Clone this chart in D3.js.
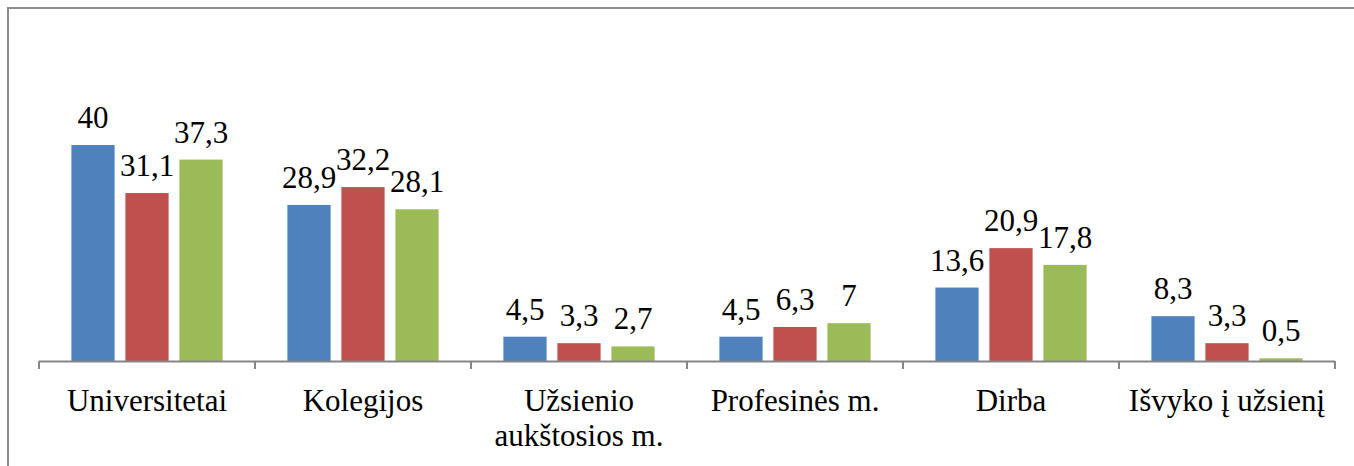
<!DOCTYPE html>
<html>
<head>
<meta charset="utf-8">
<script src="https://cdn.jsdelivr.net/npm/d3@7"></script>
<style>
  body { margin: 0; background: #fff; }
  svg { display: block; }
  svg text { font-family: "Liberation Serif", Tinos, "Times New Roman", Times, serif !important; }
</style>
</head>
<body>
<script>
var w = 1354;
var h = 466;

var categories = ["Universitetai", "Kolegijos", "Užsienio\naukštosios m.", "Profesinės m.", "Dirba", "Išvyko į užsienį"];
var series = ["s1", "s2", "s3"];
var values1 = [40, 28.9, 4.5, 4.5, 13.6, 8.3];
var values2 = [31.1, 32.2, 3.3, 6.3, 20.9, 3.3];
var values3 = [37.3, 28.1, 2.7, 7, 17.8, 0.5];
var colors = ["#4f81bd", "#c0504d", "#9bbb59"];

var allValues = [values1, values2, values3];

var x0 = d3.scaleBand()
    .domain(categories)
    .range([39, 1335]);

var x1 = d3.scaleBand()
    .domain(series)
    .range([0, x0.bandwidth()])
    .paddingInner(0.2)
    .paddingOuter(0.6);

var yScale = d3.scaleLinear()
    .domain([0, 40])
    .range([361, 145]);

var svg = d3.select("body")
    .append("svg")
    .attr("width", w)
    .attr("height", h);

// chart frame
svg.append("rect")
    .attr("x", 8)
    .attr("y", 8)
    .attr("width", w + 20)
    .attr("height", h + 20)
    .attr("fill", "none")
    .attr("stroke", "#8e8e8e")
    .attr("stroke-width", 2);

var groups = svg.selectAll("g.cat")
    .data(categories)
    .enter()
    .append("g")
    .attr("class", "cat")
    .attr("transform", function(d) { return "translate(" + x0(d) + ",0)"; });

// bars
groups.selectAll("rect")
    .data(function(d, i) {
        return series.map(function(s, j) { return { s: s, v: allValues[j][i], c: colors[j] }; });
    })
    .enter()
    .append("rect")
    .attr("x", function(d) { return x1(d.s); })
    .attr("y", function(d) { return yScale(d.v); })
    .attr("width", x1.bandwidth())
    .attr("height", function(d) { return yScale(0) - yScale(d.v); })
    .attr("fill", function(d) { return d.c; });

// value labels
groups.selectAll("text.val")
    .data(function(d, i) {
        return series.map(function(s, j) { return { s: s, v: allValues[j][i] }; });
    })
    .enter()
    .append("text")
    .attr("class", "val")
    .attr("x", function(d) { return x1(d.s) + x1.bandwidth() / 2; })
    .attr("y", function(d) { return yScale(d.v) - 17; })
    .attr("text-anchor", "middle")
    .attr("font-family", function() { return "Liberation Serif"; })
    .attr("font-size", 31)
    .attr("fill", "#000")
    .text(function(d) { return String(d.v).replace(".", ","); });

// x axis with category labels
var xAxis = d3.axisBottom(x0)
    .tickSize(0)
    .tickPadding(0)
    .tickFormat("");

var axisG = svg.append("g")
    .attr("transform", "translate(0," + yScale(0) + ")")
    .call(xAxis)
    .attr("font-family", "Liberation Serif")
    .attr("font-size", 31);
axisG.select(".domain").remove();

axisG.append("line")
    .attr("x1", 39).attr("x2", 1335)
    .attr("y1", 0.5).attr("y2", 0.5)
    .attr("stroke", "#868686")
    .attr("stroke-width", 2);

axisG.selectAll("line.tk")
    .data(d3.range(categories.length + 1))
    .enter()
    .append("line")
    .attr("class", "tk")
    .attr("x1", function(i) { return 39 + i * x0.step(); })
    .attr("x2", function(i) { return 39 + i * x0.step(); })
    .attr("y1", 0)
    .attr("y2", 8)
    .attr("stroke", "#868686")
    .attr("stroke-width", 2);

axisG.selectAll(".tick text")
    .attr("y", 50)
    .attr("dy", null)
    .attr("fill", "#000")
    .attr("font-family", function() { return "Liberation Serif"; })
    .each(function(d) {
        var t = d3.select(this);
        d.split("\n").forEach(function(l, k) {
            t.append("tspan")
                .attr("x", 0)
                .attr("dy", k === 0 ? 0 : 35)
                .text(l);
        });
    });
</script>
</body>
</html>
